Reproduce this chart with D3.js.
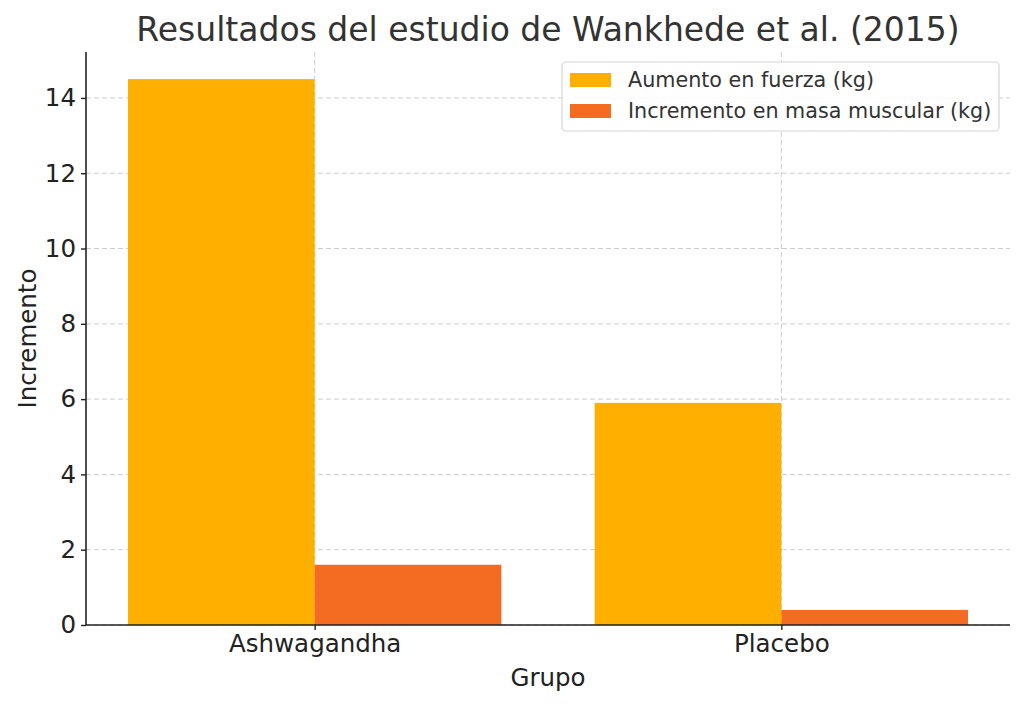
<!DOCTYPE html>
<html>
<head>
<meta charset="utf-8">
<script src="https://cdn.jsdelivr.net/npm/d3@7"></script>
<style>
  body { margin: 0; background: #fff; }
  text { font-family: "DejaVu Sans", sans-serif; }
</style>
</head>
<body>
<div id="chart"></div>
<script>
// data
var groups = ["Ashwagandha", "Placebo"];
var seriesNames = ["Aumento en fuerza (kg)", "Incremento en masa muscular (kg)"];
var fuerza = [14.5, 5.9];
var masa = [1.6, 0.4];
var yTicks = [0, 2, 4, 6, 8, 10, 12, 14];
var colors = ["#FFAF00", "#F46B22"];

var svgWidth = 1024, svgHeight = 705;
var margin = { top: 52, right: 14, bottom: 80, left: 86 };
var width = svgWidth - margin.left - margin.right;
var height = svgHeight - margin.top - margin.bottom;

var svg = d3.select("#chart").append("svg")
    .attr("width", svgWidth)
    .attr("height", svgHeight);

var g = svg.append("g")
    .attr("transform", `translate(${margin.left}, ${margin.top})`);

// matplotlib-ish: categories at 0,1, bars 0.4 wide, 5% margins
var x = d3.scaleLinear().domain([-0.49, 1.49]).range([0, width]);
var y = d3.scaleLinear().domain([0, 15.22]).range([height, 0]);
var barW = 0.4;

// grid
g.append("g").selectAll("line.h")
    .data(yTicks).enter().append("line")
    .attr("x1", 0).attr("x2", width)
    .attr("y1", d => y(d)).attr("y2", d => y(d))
    .attr("stroke", "#cccccc").attr("stroke-width", 1)
    .attr("stroke-dasharray", "5,3");
g.append("g").selectAll("line.v")
    .data(groups).enter().append("line")
    .attr("x1", (d, i) => x(i)).attr("x2", (d, i) => x(i))
    .attr("y1", 0).attr("y2", height)
    .attr("stroke", "#cccccc").attr("stroke-width", 1)
    .attr("stroke-dasharray", "5,3");

// bars
var series = [fuerza, masa];
series.forEach(function(vals, s) {
  g.append("g").selectAll("rect")
    .data(vals).enter().append("rect")
    .attr("x", (d, i) => x(i + (s === 0 ? -barW : 0)))
    .attr("width", x(barW) - x(0))
    .attr("y", d => y(d))
    .attr("height", d => height - y(d))
    .attr("fill", colors[s]);
});

// axes
var yAxis = g.append("g")
    .call(d3.axisLeft(y).tickValues(yTicks).tickSize(5).tickPadding(5));
var xAxis = g.append("g")
    .attr("transform", `translate(0, ${height})`)
    .call(d3.axisBottom(x).tickValues([0, 1]).tickFormat(i => groups[i]).tickSize(5).tickPadding(5));

[yAxis, xAxis].forEach(function(a) {
  a.attr("font-size", null).attr("font-family", null);
  a.select(".domain").attr("stroke", "#222").attr("stroke-width", 1.6);
  a.selectAll(".tick line").attr("stroke", "#222").attr("stroke-width", 1.4);
  a.selectAll(".tick text").attr("fill", "#222").style("font-size", "24.5px");
});
yAxis.select(".domain").attr("d", `M0,${height}V0`);
xAxis.select(".domain").attr("d", `M0,0H${width}`);

// title & labels
svg.append("text")
    .attr("x", margin.left + width / 2).attr("y", 41)
    .attr("text-anchor", "middle")
    .attr("fill", "#333").style("font-size", "33px")
    .text("Resultados del estudio de Wankhede et al. (2015)");

svg.append("text")
    .attr("x", margin.left + width / 2).attr("y", 686)
    .attr("text-anchor", "middle")
    .attr("fill", "#222").style("font-size", "24.5px")
    .text("Grupo");

svg.append("text")
    .attr("transform", `translate(36, ${margin.top + height / 2}) rotate(-90)`)
    .attr("text-anchor", "middle")
    .attr("fill", "#222").style("font-size", "24.5px")
    .text("Incremento");

// legend
var legend = svg.append("g").attr("transform", "translate(562, 62)");
legend.append("rect")
    .attr("x", 0).attr("y", 0).attr("width", 437).attr("height", 69)
    .attr("rx", 4)
    .attr("fill", "#fff").attr("fill-opacity", 0.85)
    .attr("stroke", "#d6d6d6").attr("stroke-width", 1.2);
seriesNames.forEach(function(name, i) {
  var row = legend.append("g").attr("transform", `translate(0, ${18 + i * 31})`);
  row.append("rect")
    .attr("x", 8).attr("y", -7).attr("width", 41).attr("height", 14)
    .attr("fill", colors[i]);
  row.append("text")
    .attr("x", 66).attr("y", 0).attr("dy", "0.35em")
    .attr("fill", "#333").style("font-size", "20.7px")
    .text(name);
});
</script>
</body>
</html>
